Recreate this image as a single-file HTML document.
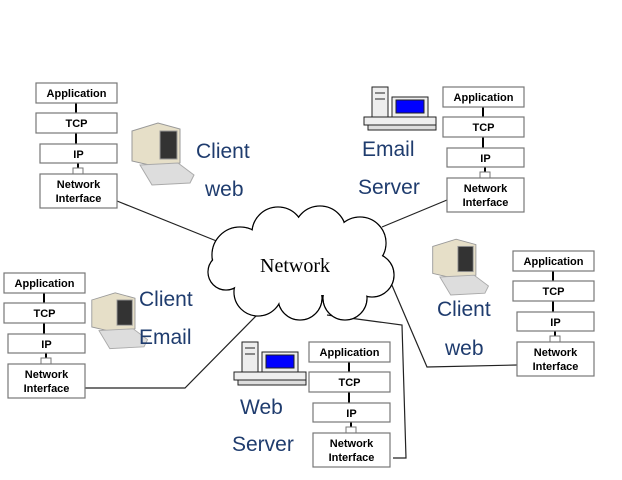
<!DOCTYPE html>
<html><head><meta charset="utf-8"><style>
html,body{margin:0;padding:0;background:#fff}
svg{display:block}
.b{fill:#fff;stroke:#777;stroke-width:1.2}
.t{font-family:"Liberation Sans",sans-serif;font-weight:bold;font-size:11px;fill:#000;text-anchor:middle}
.l{font-family:"Liberation Sans",sans-serif;font-size:21px;fill:#1f3c6e}
</style></head><body>
<svg width="622" height="480" viewBox="0 0 622 480" xmlns="http://www.w3.org/2000/svg">
<defs>
<g id="stk">
<line x1="40" y1="20" x2="40" y2="30" stroke="#000" stroke-width="2"/>
<line x1="40" y1="50" x2="40" y2="61" stroke="#000" stroke-width="2"/>
<line x1="42" y1="80" x2="42" y2="86" stroke="#000" stroke-width="2"/>
<rect x="37" y="85" width="10" height="6" fill="#fff" stroke="#777"/>
<rect class="b" x="0" y="0" width="81" height="20"/>
<rect class="b" x="0" y="30" width="81" height="20"/>
<rect class="b" x="4" y="61" width="77" height="19"/>
<rect class="b" x="4" y="91" width="77" height="34"/>
<text class="t" x="40.5" y="14">Application</text>
<text class="t" x="40.5" y="44">TCP</text>
<text class="t" x="42.5" y="75">IP</text>
<text class="t" x="42.5" y="105">Network</text>
<text class="t" x="42.5" y="119">Interface</text>
</g>
<g id="pc">
<path d="M2,8 L28,0 L50,6 L50,40 L28,44 L2,38Z" fill="#e6dfc8" stroke="#999"/>
<rect x="30" y="8" width="17" height="28" fill="#333" stroke="#999"/>
<path d="M10,42 L48,40 L64,52 L60,60 L22,62Z" fill="#ddd" stroke="#aaa"/>
</g>
<g id="srv">
<rect x="10" y="0" width="16" height="30" fill="#eee" stroke="#222"/>
<line x1="13" y1="6" x2="23" y2="6" stroke="#222"/><line x1="13" y1="12" x2="23" y2="12" stroke="#222"/>
<rect x="30" y="10" width="36" height="20" fill="#eee" stroke="#222"/>
<rect x="34" y="13" width="28" height="13" fill="#0000ff" stroke="#222"/>
<rect x="2" y="30" width="72" height="8" fill="#eee" stroke="#222"/>
<rect x="6" y="38" width="68" height="5" fill="#ddd" stroke="#222"/>
</g>
</defs>
<g fill="none" stroke="#222" stroke-width="1.2">
<line x1="117" y1="201" x2="224" y2="244"/>
<line x1="447" y1="200" x2="382" y2="227"/>
<polyline points="388,276 427,367 517,365"/>
<polyline points="327,315 402,325 406,458 393,458"/>
<polyline points="82,388 185,388 258,314"/>
</g>
<g stroke="#000" stroke-width="1.3" fill="#fff">
<circle cx="240" cy="255" r="28"/><circle cx="278" cy="233" r="26"/><circle cx="320" cy="232" r="26"/>
<circle cx="360" cy="243" r="26"/><circle cx="372" cy="275" r="22"/><circle cx="345" cy="298" r="22"/>
<circle cx="300" cy="298" r="22"/><circle cx="258" cy="292" r="24"/><circle cx="226" cy="272" r="18"/>
</g>
<g fill="#fff">
<circle cx="240" cy="255" r="27.3"/><circle cx="278" cy="233" r="25.3"/><circle cx="320" cy="232" r="25.3"/>
<circle cx="360" cy="243" r="25.3"/><circle cx="372" cy="275" r="21.3"/><circle cx="345" cy="298" r="21.3"/>
<circle cx="300" cy="298" r="21.3"/><circle cx="258" cy="292" r="23.3"/><circle cx="226" cy="272" r="17.3"/>
<rect x="240" y="240" width="120" height="55"/>
</g>
<text x="295" y="272" font-family="Liberation Serif,serif" font-size="20" text-anchor="middle">Network</text>
<use href="#stk" x="36" y="83"/>
<use href="#stk" x="443" y="87"/>
<use href="#stk" x="4" y="273"/>
<use href="#stk" x="513" y="251"/>
<use href="#stk" x="309" y="342"/>
<use href="#pc" x="130" y="123"/>
<use href="#pc" x="90" y="292" transform="translate(9,30) scale(0.9)"/>
<use href="#pc" x="431" y="238" transform="translate(43,25) scale(0.9)"/>
<use href="#srv" x="362" y="87"/>
<use href="#srv" x="232" y="342"/>
<text class="l" x="196" y="158">Client</text>
<text class="l" x="205" y="196">web</text>
<text class="l" x="362" y="156">Email</text>
<text class="l" x="358" y="194">Server</text>
<text class="l" x="139" y="306">Client</text>
<text class="l" x="139" y="344">Email</text>
<text class="l" x="437" y="316">Client</text>
<text class="l" x="445" y="355">web</text>
<text class="l" x="240" y="414">Web</text>
<text class="l" x="232" y="451">Server</text>
</svg>
</body></html>
